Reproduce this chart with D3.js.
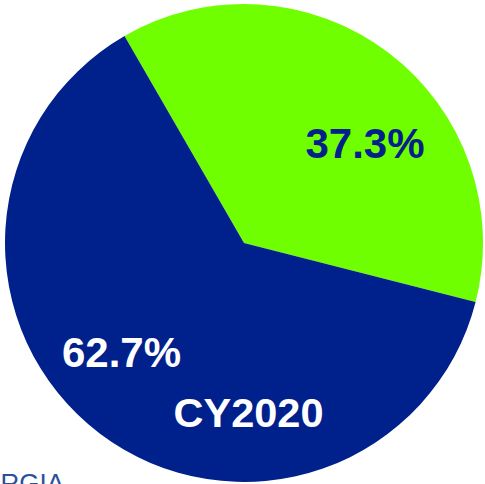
<!DOCTYPE html>
<html><head><meta charset="utf-8">
<script src="https://cdn.jsdelivr.net/npm/d3@7"></script>
<style>html,body{margin:0;padding:0;background:#fff;overflow:hidden}</style>
</head><body>
<svg id="c" width="485" height="484"></svg>
<script>
const categories = ["Segment A", "Segment B"];
const values = [37.3, 62.7];
const labels = ["37.3%", "62.7%"];
const colors = ["#70ff00", "#00208c"];
const labelColors = ["#00208c", "#ffffff"];
const title = "CY2020";

const svg = d3.select("#c");
const cx = 244, cy = 243, r = 239;
const startDeg = -30;
const pie = d3.pie().sort(null).value(d => d)
  .startAngle(startDeg * Math.PI / 180)
  .endAngle((startDeg + 360) * Math.PI / 180);
const arcs = pie(values);
const arc = d3.arc().innerRadius(0).outerRadius(r);
const g = svg.append("g").attr("transform", `translate(${cx},${cy})`);
g.selectAll("path").data(arcs).join("path")
  .attr("d", arc).attr("fill", (d, i) => colors[i]);

const labelPos = [[365, 158], [121.5, 367]];
svg.selectAll("text.lbl").data(labels).join("text")
  .attr("class", "lbl")
  .attr("x", (d, i) => labelPos[i][0]).attr("y", (d, i) => labelPos[i][1])
  .attr("text-anchor", "middle")
  .attr("font-family", "Liberation Sans, Arial, sans-serif")
  .attr("font-weight", "bold").attr("font-size", 42)
  .attr("fill", (d, i) => labelColors[i])
  .text(d => d);

svg.append("text").attr("x", 248.5).attr("y", 427)
  .attr("text-anchor", "middle")
  .attr("font-family", "Liberation Sans, Arial, sans-serif")
  .attr("font-weight", "bold").attr("font-size", 41.5)
  .attr("fill", "#fff").text(title);

svg.append("text").attr("x", 64).attr("y", 492)
  .attr("text-anchor", "end")
  .attr("font-family", "Liberation Sans, Arial, sans-serif")
  .attr("font-size", 26)
  .attr("fill", "#2c4f9e").text("GEORGIA");
</script>
</body></html>
